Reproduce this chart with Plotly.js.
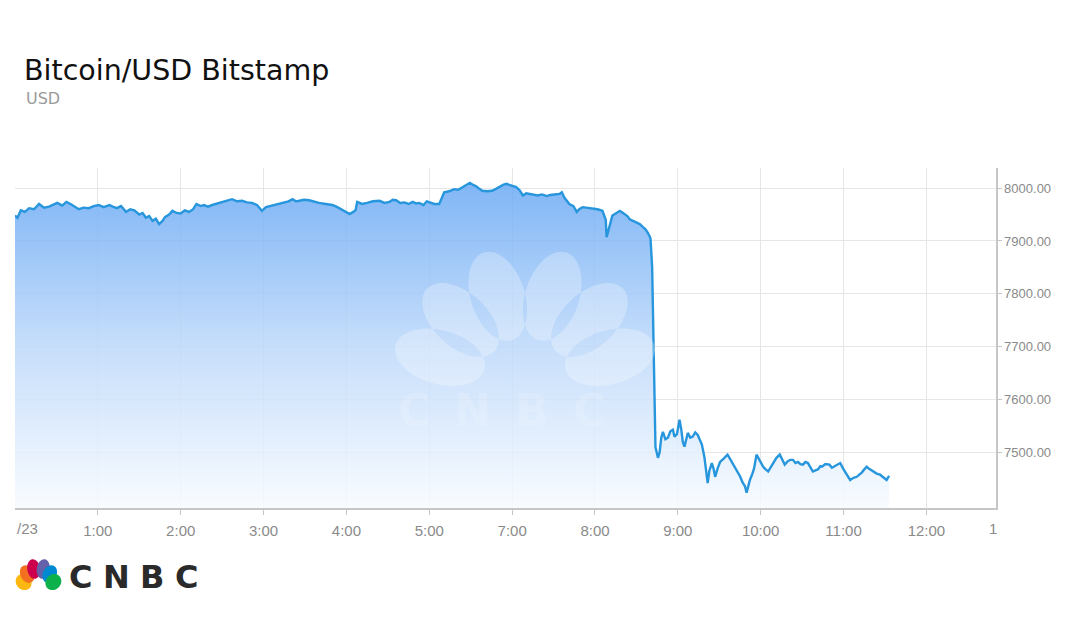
<!DOCTYPE html>
<html>
<head>
<meta charset="utf-8">
<script src="https://cdn.plot.ly/plotly-3.0.1.min.js"></script>
<style>html,body{margin:0;padding:0;background:#fff;}#chart{width:1080px;height:637px;}</style>
</head>
<body>
<div id="chart"></div>
<script>
// ---- data (x = hour slot on the chart's evenly spaced time axis) ----
const times = [
  0.00,0.03,0.07,0.12,0.17,0.23,0.29,0.35,0.41,0.46,
  0.51,0.57,0.62,0.67,0.71,0.77,0.83,0.89,0.95,1.01,
  1.07,1.14,1.18,1.23,1.28,1.34,1.39,1.44,1.50,1.54,
  1.58,1.62,1.66,1.70,1.74,1.78,1.81,1.86,1.90,1.95,
  2.00,2.05,2.10,2.15,2.19,2.24,2.28,2.33,2.38,2.44,
  2.49,2.55,2.62,2.68,2.74,2.80,2.86,2.92,2.98,3.03,
  3.08,3.13,3.19,3.25,3.30,3.35,3.39,3.43,3.49,3.55,
  3.61,3.67,3.75,3.83,3.88,3.94,3.99,4.04,4.08,4.11,
  4.13,4.19,4.25,4.32,4.40,4.46,4.52,4.56,4.60,4.65,
  4.70,4.75,4.80,4.84,4.88,4.93,4.97,5.02,5.06,5.12,
  5.15,5.18,5.24,5.30,5.35,5.40,5.45,5.49,5.53,5.57,
  5.60,5.64,5.70,5.76,5.81,5.85,5.89,5.93,5.99,6.05,
  6.09,6.13,6.17,6.21,6.26,6.31,6.36,6.42,6.46,6.51,
  6.57,6.60,6.63,6.69,6.74,6.78,6.81,6.85,6.91,6.97,
  7.03,7.09,7.11,7.13,7.14,7.16,7.18,7.21,7.25,7.30,
  7.33,7.36,7.39,7.42,7.46,7.50,7.54,7.58,7.61,7.64,
  7.67,7.69,7.70,7.72,7.73,7.76,7.78,7.80,7.82,7.85,
  7.88,7.91,7.94,7.96,7.99,8.02,8.04,8.06,8.08,8.12,
  8.15,8.18,8.21,8.24,8.27,8.29,8.32,8.34,8.36,8.38,
  8.41,8.43,8.45,8.48,8.51,8.55,8.60,8.63,8.66,8.69,
  8.71,8.75,8.78,8.81,8.83,8.85,8.87,8.90,8.92,8.95,
  8.99,9.03,9.06,9.09,9.12,9.15,9.19,9.23,9.26,9.29,
  9.33,9.36,9.39,9.42,9.45,9.48,9.51,9.54,9.57,9.60,
  9.63,9.66,9.69,9.72,9.74,9.78,9.83,9.86,9.89,9.93,
  9.96,10.00,10.04,10.08,10.12,10.16,10.19,10.22,10.25,10.28,
  10.30,10.32,10.35,10.40,10.44,10.49,10.52,10.55
];
const prices = [
  7948,7944,7958,7955,7962,7960,7970,7963,7965,7969,
  7972,7967,7974,7970,7966,7960,7963,7962,7966,7968,
  7964,7968,7965,7962,7966,7955,7960,7958,7950,7953,
  7944,7947,7938,7942,7932,7938,7945,7950,7957,7953,
  7952,7958,7955,7960,7970,7966,7968,7965,7968,7971,
  7972,7975,7979,7975,7976,7973,7972,7968,7957,7964,
  7966,7968,7970,7972,7975,7979,7975,7976,7978,7977,
  7974,7972,7970,7968,7965,7960,7955,7951,7955,7958,
  7974,7970,7972,7975,7976,7972,7974,7978,7977,7972,
  7973,7970,7974,7971,7972,7968,7975,7972,7970,7970,
  7982,7992,7994,7998,7997,8002,8006,8010,8006,8003,
  7999,7995,7994,7995,7999,8003,8006,8008,8005,8002,
  7996,7986,7990,7989,7987,7986,7988,7985,7987,7988,
  7989,7992,7982,7970,7966,7955,7960,7964,7963,7962,
  7960,7957,7950,7940,7907,7918,7930,7948,7952,7957,
  7954,7950,7947,7941,7938,7935,7932,7926,7922,7915,
  7905,7850,7780,7600,7510,7490,7500,7528,7539,7525,
  7528,7540,7543,7530,7535,7562,7545,7520,7511,7537,
  7528,7530,7538,7533,7522,7515,7492,7470,7442,7465,
  7480,7470,7454,7470,7482,7488,7496,7488,7480,7472,
  7467,7455,7444,7436,7424,7438,7448,7460,7470,7496,
  7485,7473,7468,7464,7472,7480,7490,7496,7485,7477,
  7484,7486,7486,7480,7482,7478,7477,7482,7480,7472,
  7464,7466,7468,7474,7473,7478,7477,7471,7474,7478,
  7480,7468,7458,7448,7452,7454,7458,7462,7468,7473,
  7470,7468,7464,7460,7458,7452,7448,7456
];
const tickLabels = ['/23','1:00','2:00','3:00','4:00','5:00','7:00','8:00','9:00','10:00','11:00','12:00','1'];
const tickSlots = [0,1,2,3,4,5,6,7,8,9,10,11,12];
const yTicks = [7500,7600,7700,7800,7900,8000];
const titleText = 'Bitcoin/USD Bitstamp';
const subtitleText = 'USD';
const brandLetters = ['C','N','B','C'];
const peacockColors = ['#fcb711','#f37021','#cc004c','#6460aa','#0089d0','#0db14b'];

// ---- geometry helpers (pixel -> paper) ----
const M = {l:15, r:84, t:168, b:129};
const W = 1080 - M.l - M.r, H = 637 - M.t - M.b;
const PB = 637 - M.b;
const px = x => (x - M.l) / W;
const py = y => (PB - y) / H;

function ellipsePath(cx, cy, ux, uy, vx, vy, a, b) {
  const k = 0.5523;
  const P = (s, t) => { const X = cx + s*ux + t*vx, Y = cy + s*uy + t*vy; return px(X).toFixed(5) + ',' + py(Y).toFixed(5); };
  return 'M' + P(a,0) +
    ' C' + P(a,k*b) + ' ' + P(k*a,b) + ' ' + P(0,b) +
    ' C' + P(-k*a,b) + ' ' + P(-a,k*b) + ' ' + P(-a,0) +
    ' C' + P(-a,-k*b) + ' ' + P(-k*a,-b) + ' ' + P(0,-b) +
    ' C' + P(k*a,-b) + ' ' + P(a,-k*b) + ' ' + P(a,0) + ' Z';
}
const featherAngles = [-75,-47,-18,18,47,75];
function featherPaths(bx, by, sx, sy, bMul) {
  return featherAngles.map(deg => {
    const t = deg * Math.PI / 180;
    const ux = Math.sin(t)*sx, uy = -Math.cos(t)*sy;
    const vx = Math.cos(t)*sx, vy = Math.sin(t)*sy;
    const d = 88;
    return ellipsePath(bx + d*ux, by + d*uy, ux, uy, vx, vy, 46, 27*bMul);
  });
}

const shapes = [];
// faint watermark peacock
shapes.push({type:'path', xref:'paper', yref:'paper', layer:'above',
  path: featherPaths(525, 380, 1, 1, 1).join(' '),
  fillcolor:'rgba(255,255,255,0.28)', line:{width:0}});
// brand peacock logo
featherPaths(38.5, 587, 0.175, 0.215, 1.35).forEach((p, i) => {
  shapes.push({type:'path', xref:'paper', yref:'paper', path:p, fillcolor:peacockColors[i], line:{width:0}});
});

const annotations = [];
// edge tick labels (clipped in the original)
annotations.push({xref:'paper', yref:'paper', x:px(15), y:py(528), xanchor:'left', yanchor:'middle',
  text:tickLabels[0], showarrow:false, font:{family:'Liberation Sans, Arial, sans-serif', size:15, color:'#8a8a8a'}});
annotations.push({xref:'paper', yref:'paper', x:px(992.5), y:py(528), xanchor:'center', yanchor:'middle',
  text:tickLabels[tickLabels.length-1], showarrow:false, font:{family:'Liberation Sans, Arial, sans-serif', size:15, color:'#8a8a8a'}});
// subtitle
annotations.push({xref:'paper', yref:'paper', x:px(24), y:py(98), xanchor:'left', yanchor:'middle',
  text:subtitleText, showarrow:false, font:{family:'DejaVu Sans, sans-serif', size:16, color:'#9a9a9a'}});

function spacedWord(x0, yc, size, gap, color, family) {
  const adv = {C:0.734, N:0.837, B:0.762};
  let x = x0;
  brandLetters.forEach(ch => {
    const w = adv[ch] * size;
    annotations.push({xref:'paper', yref:'paper', x:px(x + w/2), y:py(yc), xanchor:'center', yanchor:'middle',
      text:'<b>' + ch + '</b>', showarrow:false, font:{family:family, size:size, color:color}});
    x += w + gap;
  });
}
spacedWord(69, 577, 32, 10.5, '#2a2a2a', 'DejaVu Sans, sans-serif');
spacedWord(398, 410, 44, 24, 'rgba(255,255,255,0.17)', 'DejaVu Sans, sans-serif');

const trace = {
  x: times, y: prices, type:'scatter', mode:'lines',
  line:{color:'#2796dd', width:2.4},
  fill:'tozeroy',
  fillgradient:{type:'vertical', start:7395, stop:8010,
    colorscale:[[0,'rgba(247,251,255,0.85)'],[0.5,'rgba(188,216,250,0.85)'],[1,'rgba(106,169,244,0.85)']]},
  hoverinfo:'skip'
};

const layout = {
  width:1080, height:637,
  margin:M,
  paper_bgcolor:'#ffffff', plot_bgcolor:'#ffffff',
  showlegend:false,
  title:{text:titleText, xref:'container', yref:'container', x:24/1080, xanchor:'left',
    y:1 - 70/637, yanchor:'middle',
    font:{family:'DejaVu Sans, sans-serif', size:28.5, color:'#111111'}},
  xaxis:{range:[0,11.84], tickvals:tickSlots.slice(1,12), ticktext:tickLabels.slice(1,12),
    showgrid:true, gridcolor:'#e6e6e6', gridwidth:1, zeroline:false,
    showline:true, linecolor:'#c6c6c6', linewidth:1.5,
    ticks:'outside', ticklen:5, tickcolor:'#c6c6c6', ticklabelstandoff:3,
    tickfont:{family:'Liberation Sans, Arial, sans-serif', size:15, color:'#8a8a8a'}, fixedrange:true},
  yaxis:{side:'right', range:[7395,8038], tickvals:yTicks, tickformat:'.2f',
    showgrid:true, gridcolor:'#e6e6e6', gridwidth:1, zeroline:false,
    showline:true, linecolor:'#c6c6c6', linewidth:1.5,
    ticks:'outside', ticklen:4, tickcolor:'#c6c6c6',
    tickfont:{family:'Liberation Sans, Arial, sans-serif', size:13, color:'#8a8a8a'}, fixedrange:true},
  shapes:shapes,
  annotations:annotations
};

Plotly.newPlot('chart', [trace], layout, {displayModeBar:false, staticPlot:true});
</script>
</body>
</html>
